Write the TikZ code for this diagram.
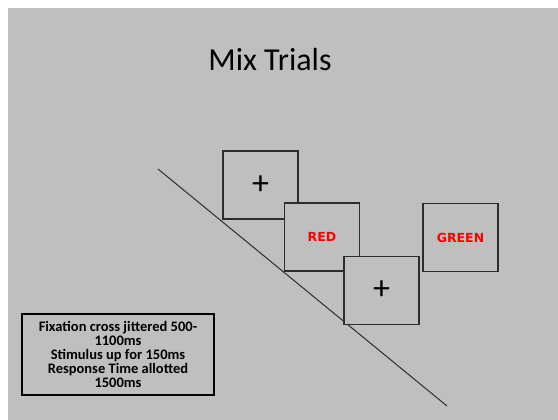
\documentclass[tikz,border=0pt]{standalone}
\usepackage{fontspec}
\setmainfont{Carlito}
\newfontfamily\stimfont{DejaVu Sans}
\definecolor{slidegray}{RGB}{191,191,191}
\definecolor{framegray}{RGB}{45,45,45}
\begin{document}
\begin{tikzpicture}[x=1pt,y=-1pt,
  trialbox/.style={draw=framegray,line width=1.4pt,minimum width=75pt,minimum height=68pt,inner sep=0pt},
  crossmark/.style={font=\fontsize{34}{34}\selectfont},
  colorword/.style={text=red,font=\stimfont\bfseries\fontsize{12.5}{12.5}\selectfont}]
  % Slide background
  \useasboundingbox (0,0) rectangle (558,420);
  \fill[white] (0,0) rectangle (558,420);
  \fill[slidegray] (8,8) rectangle (558,420);

  % Title
  \node (title) at (270,60) {\fontsize{32}{32}\selectfont Mix Trials};

  % Time line
  \coordinate (tstart) at (158,169);
  \coordinate (tend) at (447,406);
  \draw[framegray,line width=1pt] (tstart) -- (tend);

  % Trial screens
  \node[trialbox,crossmark] (fix1) at (260.5,185) {+};
  \node[trialbox,fill=slidegray,colorword] (stim1) at (322,237) {RED};
  \node[trialbox,fill=slidegray,crossmark] (fix2) at (381.5,290.5) {+};
  \node[trialbox,colorword] (stim2) at (460.5,237.5) {GREEN};

  % Timing notes
  \node[draw=black,line width=1.6pt,minimum width=192pt,minimum height=81pt,inner sep=0pt,
    align=center,font=\bfseries\fontsize{14.5}{14}\selectfont] (notes) at (118,354.5)
    {Fixation cross jittered 500-\\1100ms\\Stimulus up for 150ms\\Response Time allotted\\1500ms};
\end{tikzpicture}
\end{document}
